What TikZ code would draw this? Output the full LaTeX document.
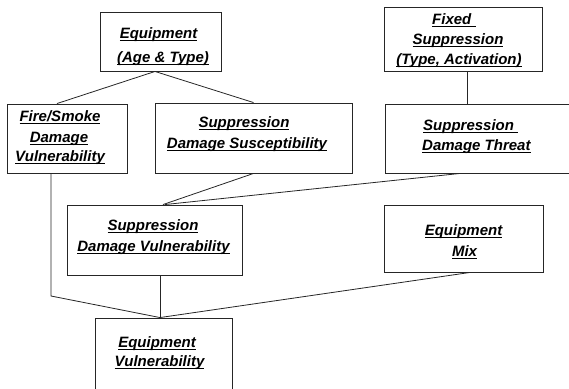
\documentclass[tikz,border=0pt]{standalone}
\usepackage{fontspec}
\setmainfont{Liberation Sans}
\usetikzlibrary{calc}
\newcommand\ulin[1]{\setbox0=\hbox{#1}\rlap{\vrule width\wd0 height -1.8pt depth 3.1pt}\box0}
\begin{document}
\begin{tikzpicture}[x=1pt,y=-1pt,
  box/.style={draw=black!85, line width=0.9pt, inner sep=0pt, rectangle},
  txt/.style={anchor=base, inner sep=0pt, font=\fontsize{15}{18}\selectfont\bfseries\itshape},
  txtl/.style={txt, anchor=base west},
  link/.style={draw=black!85, line width=0.8pt}]
\useasboundingbox (0,0) rectangle (569,388);
% boxes
\node[box, minimum width=121, minimum height=59] (b1) at (160.5,41.5) {};
\node[box, minimum width=120, minimum height=69] (b2) at (67,138.5) {};
\node[box, minimum width=197, minimum height=70] (b3) at (253.5,138) {};
\node[box, minimum width=158, minimum height=64] (b4) at (463,39) {};
\node[box, minimum width=195, minimum height=69] (b5) at (482.5,138.5) {};
\node[box, minimum width=175, minimum height=70] (b6) at (154.5,240) {};
\node[box, minimum width=159, minimum height=67] (b7) at (463.5,238.5) {};
\node[box, minimum width=137, minimum height=92] (b8) at (163.5,364) {};
% texts
\node[txt] (t1a) at (158.5,38) {\ulin{Equipment}};
\node[txt] (t1b) at (163,62) {\ulin{(Age \& Type)}};
\node[txt] (t2a) at (60,121) {\ulin{Fire/Smoke}};
\node[txt] (t2b) at (59,142) {\ulin{Damage}};
\node[txt] (t2c) at (60,161) {\ulin{Vulnerability}};
\node[txt] (t3a) at (244,127) {\ulin{Suppression}};
\node[txt] (t3b) at (247,148) {\ulin{Damage Susceptibility}};
\node[txtl] (t4a) at (432,24) {\ulin{Fixed\ }};
\node[txt] (t4b) at (458,44) {\ulin{Suppression}};
\node[txt] (t4c) at (459,64) {\ulin{(Type, Activation)}};
\node[txtl] (t5a) at (423,130) {\ulin{Suppression\ }};
\node[txtl] (t5b) at (422,150) {\ulin{Damage Threat}};
\node[txt] (t6a) at (153,230) {\ulin{Suppression}};
\node[txt] (t6b) at (153.5,251) {\ulin{Damage Vulnerability}};
\node[txt] (t7a) at (463.5,235) {\ulin{Equipment}};
\node[txt] (t7b) at (464.5,256) {\ulin{Mix}};
\node[txt] (t8a) at (157,347) {\ulin{Equipment}};
\node[txt] (t8b) at (159.5,366) {\ulin{Vulnerability}};
% connectors
\coordinate (k) at (51,296);
\draw[link] ($(b1.south)+(-5.5,0)$) -- ($(b2.north)+(-10,0)$);
\draw[link] ($(b1.south)+(-5.5,0)$) -- (b3.north);
\draw[link] ($(b4.south)+(4,0)$) -- ($(b5.north)+(-15.5,0)$);
\draw[link] (b3.south) -- ($(b6.north)+(8.5,0)$);
\draw[link] ($(b5.south)+(-22.5,0)$) -- ($(b6.north)+(10.5,0)$);
\draw[link] ($(b2.south)+(-16,0)$) -- (k) -- ($(b8.north)+(-3.5,0)$);
\draw[link] ($(b6.south)+(5.5,0)$) -- ($(b8.north)+(-3.5,0)$);
\draw[link] ($(b7.south)+(6.5,0)$) -- ($(b8.north)+(-3.5,0)$);
\end{tikzpicture}
\end{document}
